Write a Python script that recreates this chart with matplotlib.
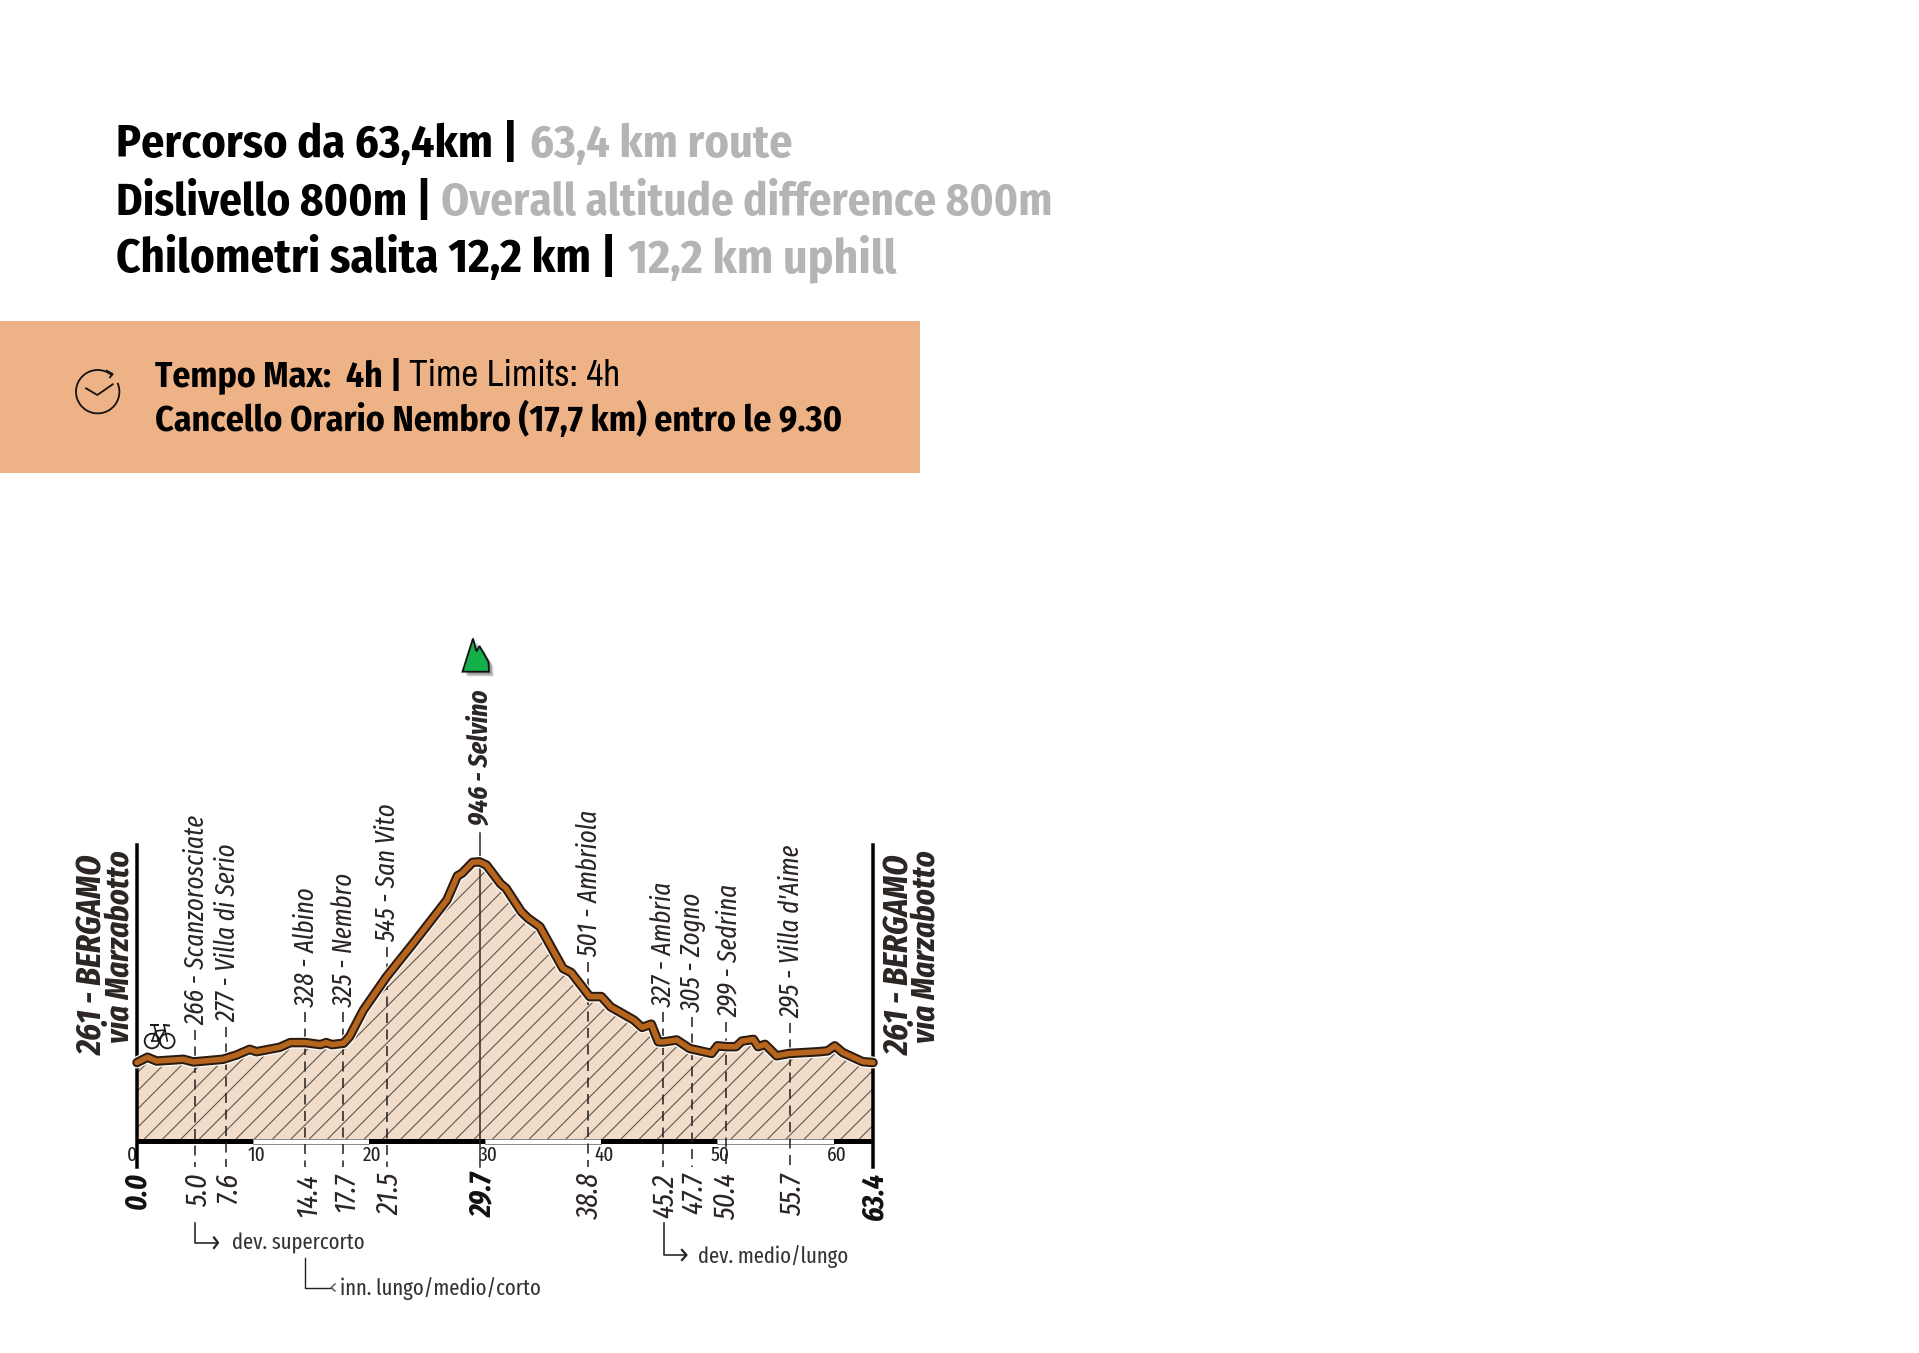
import matplotlib
matplotlib.use("Agg")
import matplotlib.pyplot as plt
from matplotlib.patches import Circle, Polygon, Rectangle, Arc
from matplotlib.transforms import blended_transform_factory

W, H = 1920, 1353
DPI = 110
HEAD_FONT = ["Fira Sans Condensed", "Liberation Sans", "DejaVu Sans"]
THIN_FONT = ["Archivo Narrow", "Liberation Sans", "DejaVu Sans"]
LABEL_FONT = ["Fira Sans Extra Condensed", "Fira Sans Condensed", "Liberation Sans", "DejaVu Sans"]

# elevation profile
km = [0, 0.9, 1.7, 4.0, 4.85, 7.4, 8.6, 9.7, 10.3, 12.3, 13.2, 14.5, 15.8, 16.3, 16.8, 17.8,
      18.3, 19.5, 21.5, 23.8, 25.8, 26.7, 27.6, 28.0, 28.9, 29.5, 30.1, 31.3, 31.8, 33.1, 33.7,
      34.7, 36.7, 37.4, 39.0, 40.0, 40.8, 42.8, 43.5, 44.3, 44.9, 45.3, 46.5, 47.6, 49.5, 50.0,
      50.8, 51.6, 52.1, 53.1, 53.5, 54.1, 55.1, 56.2, 58.8, 59.5, 60.1, 60.8, 62.5, 63.4]
elev = [261, 279, 266, 272, 263, 272, 287, 306, 298, 313, 329, 329, 322, 329, 322, 327,
        349, 440, 554, 668, 770, 816, 898, 907, 944, 946, 935, 872, 855, 776, 753,
        725, 582, 568, 486, 486, 451, 406, 381, 392, 332, 331, 338, 309, 292, 318,
        315, 315, 334, 340, 315, 323, 284, 292, 298, 301, 318, 295, 264, 261]

# places along the route, drop_km is where each dashed line really stands in the drawing
drop_km = [5.0, 7.64, 14.47, 17.77, 21.56, 38.82, 45.3, 47.8, 50.7, 56.25]
place_names = ["266 - Scanzorosciate", "277 - Villa di Serio", "328 - Albino", "325 - Nembro",
               "545 - San Vito", "501 - Ambriola", "327 - Ambria", "305 - Zogno",
               "299 - Sedrina", "295 - Villa d'Aime"]
km_labels = ["5.0", "7.6", "14.4", "17.7", "21.5", "38.8", "45.2", "47.7", "50.4", "55.7"]
summit_km = 29.54
end_km = [0.0, 29.54, 63.4]
end_labels = ["0.0", "29.7", "63.4"]
scale_km = [0, 10, 20, 30, 40, 50, 60]
scale_black = [(0, 10), (20, 10), (40, 10), (60, 3.4)]
scale_white = [(10, 10), (30, 10), (50, 10)]

# layout only, in pixels of the page
name_bottom = [1025, 1022, 1007, 1007, 942, 957, 1007, 1012, 1017, 1018]
name_dx = [9, 9.3, 10, 9.4, 7.7, 10, 8.7, 9, 11, 8.7]
km_dx = [11.7, 11, 11.7, 10.7, 10.7, 11.3, 10.7, 11, 9.3, 11]

plt.rcParams["lines.scale_dashes"] = False
plt.rcParams["hatch.linewidth"] = 0.7
plt.rcParams["font.family"] = LABEL_FONT


def pt(px):
    return px * 72 / DPI


fig = plt.figure(figsize=(W / DPI, H / DPI), dpi=DPI, facecolor="white")
page = fig.add_axes([0, 0, 1, 1])
page.set_xlim(0, W)
page.set_ylim(H, 0)
page.axis("off")

# profile axes: 0 m sits on the distance bar, 0.293 px per metre
x0, x1, base = 137, 873, 1139
top = base - 0.293 * 1000
ax = fig.add_axes([x0 / W, 1 - base / H, (x1 - x0) / W, (base - top) / H])
ax.set_xlim(0, 63.4)
ax.set_ylim(0, 1000)
ax.axis("off")
ax.patch.set_alpha(0)
tr = blended_transform_factory(ax.transData, page.transData)


def rot(x, y, s, size, weight="normal", style="italic", color="#2b2523", ha="left", transform=tr):
    page.text(x, y, s, transform=transform, rotation=90, rotation_mode="anchor", ha=ha,
              va="baseline", fontsize=pt(size), fontweight=weight, fontstyle=style, color=color,
              clip_on=False)


def px_dx(k, dx):
    return k + dx / ((x1 - x0) / 63.4)


# header
head = [(116, 157, "Percorso da 63,4km |", "#000000", 46),
        (530, 157, "63,4 km route", "#b4b4b4", 46),
        (116, 215, "Dislivello 800m |", "#000000", 45),
        (441, 215, "Overall altitude difference 800m", "#b4b4b4", 44.8),
        (116, 272, "Chilometri salita 12,2 km |", "#000000", 46.8),
        (628, 272, "12,2 km uphill", "#b4b4b4", 47.5)]
for hx, hy, s, c, fs in head:
    page.text(hx, hy, s, color=c, fontweight="bold", fontsize=pt(fs), va="baseline", family=HEAD_FONT)

# time limit box
page.add_patch(Rectangle((0, 321), 920, 152, facecolor="#eeb287", edgecolor="none"))
page.text(155, 386, "Tempo Max:  4h |", fontweight="bold", fontsize=pt(35.5), color="#000000", va="baseline", family=HEAD_FONT)
page.text(409, 386, "Time Limits: 4h", fontsize=pt(37), color="#000000", va="baseline", family=THIN_FONT)
page.text(155, 431, "Cancello Orario Nembro (17,7 km) entro le 9.30", fontweight="bold",
          fontsize=pt(35.8), color="#000000", va="baseline", family=HEAD_FONT)

# clock icon
page.add_patch(Arc((97.7, 391.7), 43.4, 43.4, theta1=-24, theta2=310, color="#111111", lw=pt(1.8)))
page.plot([106.7, 112.7, 110], [370.7, 374, 377.3], color="#111111", lw=pt(1.8))
page.plot([86, 97.3, 112.7], [388.3, 395, 384.3], color="#111111", lw=pt(1.8))

# profile
ax.fill_between(km, elev, 0, facecolor="#f0dcc8", edgecolor="#5f5349", hatch="//", linewidth=0, zorder=1)

# dashed drop lines
for k, b in zip(drop_km, name_bottom):
    ax.plot([k, k], [b + 5, 1167], transform=tr, color="#2b2523", lw=pt(1.6),
            linestyle=(0, (pt(10), pt(6.5))), clip_on=False, zorder=3)
ax.plot([summit_km, summit_km], [833, 1167], transform=tr, color="#2b2523", lw=pt(1.5), clip_on=False, zorder=3)

# profile line with white halo
ax.plot(km, elev, color="white", lw=pt(12), solid_capstyle="round", solid_joinstyle="round", clip_on=False, zorder=4)
ax.plot(km, elev, color="#2a1a10", lw=pt(9.5), solid_capstyle="round", solid_joinstyle="round", clip_on=False, zorder=5)
ax.plot(km, elev, color="#b5651d", lw=pt(5.5), solid_capstyle="round", solid_joinstyle="round", clip_on=False, zorder=6)

# distance bar
for s, w in scale_white:
    ax.add_patch(Rectangle((s, 1139), w, 5, transform=tr, facecolor="white", edgecolor="#8a8a8a", lw=pt(1), clip_on=False, zorder=2))
for s, w in scale_black:
    ax.add_patch(Rectangle((s, 1138.5), w, 5.5, transform=tr, facecolor="black", edgecolor="none", clip_on=False, zorder=2))
for k in scale_km:
    dx = -5 if k == 0 else 3
    page.text(px_dx(k, dx), 1155, str(k), transform=tr, ha="center", va="center", fontsize=pt(21), color="#222222")

# end posts
ax.plot([0, 0], [845, 1167], transform=tr, color="black", lw=pt(3.5), clip_on=False, zorder=3)
ax.plot([63.4, 63.4], [845, 1167], transform=tr, color="black", lw=pt(3.5), clip_on=False, zorder=3)

# vertical labels
for k, s, b, dx in zip(drop_km, place_names, name_bottom, name_dx):
    rot(px_dx(k, dx), b, s, 27)
rot(px_dx(summit_km, 8), 825, "946 - Selvino", 27.5, weight="bold")
for k, s, dx in zip(drop_km, km_labels, km_dx):
    rot(px_dx(k, dx), 1173, s, 30, ha="right")
for k, s, dx in zip(end_km, end_labels, [8, 11, 9]):
    rot(px_dx(k, dx), 1172, s, 30, weight="bold", ha="right", color="#111111")

pg = page.transData
rot(102.5, 1055, "261 - BERGAMO", 35, weight="bold", transform=pg)
rot(128.5, 1043, "via Marzabotto", 33.4, weight="bold", transform=pg)
rot(909, 1055, "261 - BERGAMO", 35, weight="bold", transform=pg)
rot(935, 1043, "via Marzabotto", 33.4, weight="bold", transform=pg)

# summit icon
mountain = [(462.5, 671.7), (473, 638.5), (476.5, 651.5), (479.5, 646), (488.5, 662), (489, 671.7)]
for off, a in [(5, 0.12), (4, 0.18), (3, 0.25)]:
    page.add_patch(Polygon([(x + off, y + off) for x, y in mountain], closed=True, facecolor="#333333", edgecolor="none", alpha=a))
page.add_patch(Polygon(mountain, closed=True, facecolor="#14b04b", edgecolor="#111111", lw=pt(1.8)))

# bicycle
for cx, cy in [(152, 1041), (167.3, 1041)]:
    page.add_patch(Circle((cx, cy), 7.3, facecolor="none", edgecolor="#1a1a1a", lw=pt(1.8)))
page.plot([152, 155.7, 165, 158.3, 152], [1041, 1031, 1030, 1041, 1041], color="#1a1a1a", lw=pt(1.6))
page.plot([155.7, 158.3], [1031, 1041], color="#1a1a1a", lw=pt(1.6))
page.plot([164, 167.3], [1025, 1041], color="#1a1a1a", lw=pt(1.6))
page.plot([155.7, 154], [1031, 1025], color="#1a1a1a", lw=pt(1.6))
page.plot([151, 158], [1024.5, 1024.5], color="#1a1a1a", lw=pt(2))
page.plot([164, 169], [1025, 1025.5], color="#1a1a1a", lw=pt(2))

# course notes
page.text(232.5, 1250, "dev. supercorto", fontsize=pt(22.6), color="#333333", va="baseline")
page.text(340.5, 1295, "inn. lungo/medio/corto", fontsize=pt(22.6), color="#333333", va="baseline")
page.text(698, 1263, "dev. medio/lungo", fontsize=pt(22.6), color="#333333", va="baseline")
page.plot([195.5, 195.5, 217], [1223, 1242.7, 1242.7], color="#222222", lw=pt(1.6))
page.plot([214, 218, 214], [1237.5, 1242.7, 1248], color="#222222", lw=pt(2.2))
page.plot([305.3, 305.3, 332], [1258, 1287.7, 1287.7], color="#222222", lw=pt(1.4))
page.plot([335, 331, 335], [1284, 1287.7, 1291], color="#666666", lw=pt(1.6))
page.plot([664, 664, 686], [1223, 1255, 1255], color="#222222", lw=pt(1.6))
page.plot([682, 686.5, 682], [1250, 1255, 1260], color="#222222", lw=pt(2.2))

fig.savefig("out.png", dpi=DPI, facecolor="white")
